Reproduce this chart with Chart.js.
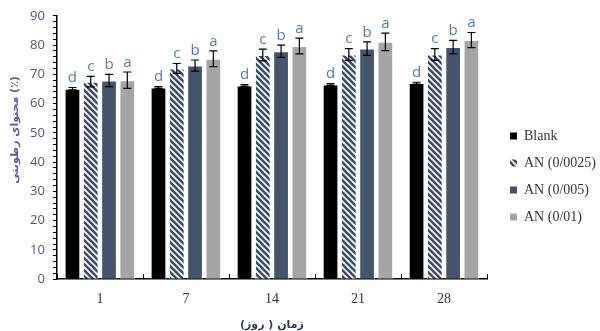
<!DOCTYPE html>
<html>
<head>
<meta charset="utf-8">
<script src="https://cdn.jsdelivr.net/npm/chart.js@4.4.0/dist/chart.umd.min.js"></script>
<style>
  html, body { margin: 0; padding: 0; background: #fff; }
  #wrap { width: 600px; height: 331px; }
</style>
</head>
<body>
<div id="wrap"><canvas id="chart"></canvas></div>
<script>
const days = ["1", "7", "14", "21", "28"];
const seriesNames = ["Blank", "AN (0/0025)", "AN (0/005)", "AN (0/01)"];
const blank = [65.1, 65.5, 66.2, 66.5, 67.0];
const an0025 = [67.5, 72.0, 76.6, 76.8, 76.8];
const an005 = [67.9, 73.0, 77.9, 78.8, 79.3];
const an001 = [68.0, 75.3, 79.7, 81.1, 81.7];
const errBlank = [0.4, 0.3, 0.3, 0.3, 0.3];
const err0025 = [1.8, 1.7, 2.0, 2.0, 2.0];
const err005 = [2.1, 1.9, 2.1, 2.3, 2.3];
const err001 = [2.8, 2.7, 2.7, 3.0, 2.6];
const letters = ["d", "c", "b", "a"];
const yTitle = "محتوای رطوبتی (٪)";
const xTitle = "زمان ( روز)";

// diagonal hatch for the 0/0025 series
function makeHatch() {
  const c = document.createElement("canvas");
  c.width = 6;
  c.height = 6;
  const g = c.getContext("2d");
  g.fillStyle = "#ffffff";
  g.fillRect(0, 0, 6, 6);
  g.strokeStyle = "#3b4a66";
  g.lineWidth = 2.6;
  g.beginPath();
  g.moveTo(-3, -3); g.lineTo(9, 9);
  g.moveTo(-3, 3); g.lineTo(3, 9);
  g.moveTo(3, -3); g.lineTo(9, 3);
  g.stroke();
  return g.createPattern(c, "repeat");
}

const errors = [errBlank, err0025, err005, err001];

const extras = {
  id: "extras",
  afterDatasetsDraw(chart) {
    const ctx = chart.ctx;
    const y = chart.scales.y;
    ctx.save();
    // error bars + significance letters
    chart.data.datasets.forEach((ds, di) => {
      const meta = chart.getDatasetMeta(di);
      meta.data.forEach((bar, i) => {
        const v = ds.data[i];
        const e = errors[di][i];
        const top = y.getPixelForValue(v + e);
        const bot = y.getPixelForValue(v - e);
        ctx.strokeStyle = "#000";
        ctx.lineWidth = 1.2;
        ctx.beginPath();
        ctx.moveTo(bar.x, top); ctx.lineTo(bar.x, bot);
        ctx.moveTo(bar.x - 4, top); ctx.lineTo(bar.x + 4, top);
        ctx.moveTo(bar.x - 4, bot); ctx.lineTo(bar.x + 4, bot);
        ctx.stroke();
        ctx.fillStyle = "#4f7bbd";
        ctx.font = "15px 'Open Sans', sans-serif";
        ctx.textAlign = "center";
        ctx.textBaseline = "bottom";
        ctx.fillText(letters[di], bar.x, top - 2);
      });
    });
    // category boundary ticks on the x axis (pointing up)
    const x = chart.scales.x;
    const half = (x.getPixelForValue(1) - x.getPixelForValue(0)) / 2;
    ctx.strokeStyle = "#000";
    ctx.lineWidth = 1;
    ctx.beginPath();
    for (let i = 0; i <= days.length; i++) {
      const px = Math.round(x.getPixelForValue(i) - half) + 0.5;
      ctx.moveTo(px, chart.chartArea.bottom);
      ctx.lineTo(px, chart.chartArea.bottom - 5);
    }
    ctx.stroke();
    ctx.restore();
  },
  afterDraw(chart) {
    const ctx = chart.ctx;
    ctx.save();
    // y axis title
    ctx.translate(15, 130);
    ctx.rotate(-Math.PI / 2);
    ctx.fillStyle = "#5a5aa8";
    ctx.font = "bold 11px 'DejaVu Sans', sans-serif";
    ctx.textAlign = "center";
    ctx.textBaseline = "middle";
    ctx.fillText(yTitle, 0, 0);
    ctx.restore();
    // legend
    ctx.save();
    ctx.font = "14px 'Liberation Serif', serif";
    ctx.textBaseline = "middle";
    ctx.textAlign = "left";
    chart.data.datasets.forEach((ds, i) => {
      const cy = 136 + i * 27;
      ctx.fillStyle = ds.backgroundColor;
      ctx.fillRect(510, cy - 3.5, 7, 7);
      ctx.fillStyle = "#333";
      ctx.fillText(ds.label, 524, cy);
    });
    ctx.restore();
  }
};

const common = { borderColor: "#ffffff", borderWidth: 1, categoryPercentage: 0.85, barPercentage: 0.86 };

new Chart(document.getElementById("chart"), {
  type: "bar",
  data: {
    labels: days,
    datasets: [
      { label: seriesNames[0], data: blank, backgroundColor: "#000000", ...common },
      { label: seriesNames[1], data: an0025, backgroundColor: makeHatch(), ...common },
      { label: seriesNames[2], data: an005, backgroundColor: "#44546a", ...common },
      { label: seriesNames[3], data: an001, backgroundColor: "#a5a5a5", ...common }
    ]
  },
  options: {
    responsive: true,
    maintainAspectRatio: false,
    animation: false,
    layout: { padding: { top: 14, right: 113, left: 22, bottom: 0 } },
    plugins: {
      legend: { display: false },
      tooltip: { enabled: false }
    },
    scales: {
      x: {
        grid: { display: false, drawTicks: false },
        border: { color: "#000", width: 1.5 },
        ticks: { color: "#333", padding: 12, font: { family: "'Liberation Serif', serif", size: 14 } },
        title: {
          display: true,
          text: xTitle,
          color: "#2b3a68",
          font: { family: "'DejaVu Sans', sans-serif", size: 11, weight: "bold", lineHeight: 1 },
          padding: { top: 0, bottom: 0 }
        }
      },
      y: {
        min: 0,
        max: 90,
        grid: { drawOnChartArea: false, tickLength: 4, tickColor: "#000" },
        border: { color: "#000", width: 1.5 },
        ticks: {
          stepSize: 2,
          autoSkip: false,
          color: "#4a5878",
          padding: 8,
          font: { family: "'Open Sans', sans-serif", size: 13 },
          callback: (v) => (v % 10 === 0 ? v : "")
        }
      }
    }
  },
  plugins: [extras]
});
</script>
</body>
</html>
